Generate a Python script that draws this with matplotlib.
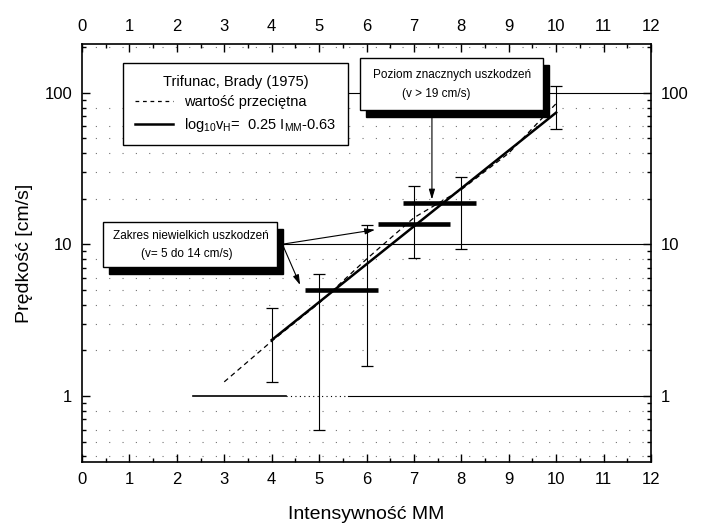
import matplotlib
matplotlib.use("Agg")
import matplotlib.pyplot as plt
import numpy as np
from matplotlib.patches import Rectangle
from matplotlib.lines import Line2D

plt.rcParams['font.family'] = ['Liberation Sans', 'DejaVu Sans']
plt.rcParams['mathtext.fontset'] = 'custom'
plt.rcParams['mathtext.rm'] = 'Liberation Sans'
plt.rcParams['mathtext.it'] = 'Liberation Sans'

# ---- data ----
eb_x = [4, 5, 6, 7, 8, 10]
eb_lo = [1.24, 0.60, 1.58, 8.1, 9.3, 57.6]
eb_hi = [3.79, 6.4, 13.4, 24.4, 28.0, 111.0]

bar_v = [5.0, 13.6, 18.9]
bar_x0 = [4.70, 6.24, 6.77]
bar_x1 = [6.25, 7.76, 8.31]

fit_x = [4, 10]
fit_v = [2.34, 74.1]

mean_x = [3, 4, 5, 6, 7, 8, 9, 10]
mean_v = [1.24, 2.3, 4.1, 8.0, 15.0, 23.0, 40.0, 85.0]

x_ticks = list(range(0, 13))
y_ticks = [1, 10, 100]
y_ticklabels = ['1', '10', '100']

fig = plt.figure(figsize=(7.01, 5.28), dpi=100)
ax = fig.add_axes([82/701, 66/528, 569/701, 418/528])
ax.set_yscale('log')
ax.set_xlim(0, 12)
ax.set_ylim(0.367, 210)

# sparse dotted minor gridlines
minor_levels = [0.4, 0.5, 0.6, 0.8] + [2, 3, 4, 5, 6, 8] + [20, 30, 40, 50, 60, 80] + [200]
for lv in minor_levels:
    ax.axhline(lv, color='0.45', lw=0.8, ls=(0, (1, 11)), zorder=1)

# decade lines (partial)
ax.plot([2.35, 4.3], [1, 1], color='k', lw=1.2, zorder=2)
ax.plot([4.3, 5.6], [1, 1], color='k', lw=0.8, ls=(0, (1, 3)), zorder=2)
ax.plot([5.6, 12], [1, 1], color='k', lw=0.8, zorder=2)
ax.plot([4.22, 12], [10, 10], color='k', lw=0.8, zorder=2)
ax.plot([5.6, 12], [100, 100], color='k', lw=0.8, zorder=2)

# error bars
lo = np.array(eb_lo); hi = np.array(eb_hi)
mid = np.sqrt(lo * hi)
ax.errorbar(eb_x, mid, yerr=[mid - lo, hi - mid], fmt='none', ecolor='k',
            elinewidth=0.8, capsize=4.5, capthick=0.9, zorder=3)

# thick damage-level bars
ax.hlines(bar_v, bar_x0, bar_x1, colors='k', lw=3.3, zorder=4)

# lines
ax.plot(mean_x, mean_v, color='k', lw=0.9, ls=(0, (4, 3)), zorder=4)
ax.plot(fit_x, fit_v, color='k', lw=1.8, zorder=5)

# ticks
ax.set_xticks(x_ticks)
ax.set_xticks(np.arange(0.5, 12, 1.0), minor=True)
ax.set_yticks(y_ticks)
ax.set_yticklabels(y_ticklabels)
ax.tick_params(which='both', direction='in', top=True, right=True,
               labeltop=True, labelright=True, labelsize=12, width=1.0)
ax.tick_params(which='major', length=6, pad=7)
ax.tick_params(which='minor', length=3)
for s in ax.spines.values():
    s.set_linewidth(1.2)

ax.set_xlabel('Intensywność MM', fontsize=14, labelpad=14)
ax.set_ylabel('Prędkość [cm/s]', fontsize=14, labelpad=8)

# legend box
h1 = Line2D([], [], color='k', lw=0.9, ls=(0, (3, 3)))
h2 = Line2D([], [], color='k', lw=1.8)
leg = ax.legend([h1, h2], ['wartość przeciętna',
                           r'log$_{\mathrm{10}}$v$_{\mathrm{H}}$=  0.25 I$_{\mathrm{MM}}$-0.63'],
                title='Trifunac, Brady (1975)', loc='upper left',
                bbox_to_anchor=(0.072, 0.9545), frameon=True, fancybox=False,
                edgecolor='k', framealpha=1, fontsize=10.5, title_fontsize=10.5,
                handlelength=2.6, borderpad=0.8, labelspacing=0.45, borderaxespad=0)
leg.get_frame().set_linewidth(1.0)
leg.set_zorder(6)

tr = ax.transAxes
def shadow_box(x0, y0, x1, y1, dx=6/569, dy=7/418):
    ax.add_patch(Rectangle((x0 + dx, y0 - dy), x1 - x0, y1 - y0, transform=tr,
                           facecolor='k', edgecolor='k', zorder=6))
    ax.add_patch(Rectangle((x0, y0), x1 - x0, y1 - y0, transform=tr,
                           facecolor='white', edgecolor='k', lw=1.0, zorder=7))

# Poziom box
shadow_box(0.4886, 0.842, 0.810, 0.9665)
ax.text(0.651, 0.925, 'Poziom znacznych uszkodzeń', transform=tr, ha='center', va='center',
        fontsize=8.5, zorder=8)
ax.text(0.622, 0.881, '(v > 19 cm/s)', transform=tr, ha='center', va='center',
        fontsize=8.5, zorder=8)

# Zakres box
shadow_box(0.0364, 0.466, 0.342, 0.575)
ax.text(0.192, 0.540, 'Zakres niewielkich uszkodzeń', transform=tr, ha='center', va='center',
        fontsize=8.5, zorder=8)
ax.text(0.185, 0.498, '(v= 5 do 14 cm/s)', transform=tr, ha='center', va='center',
        fontsize=8.5, zorder=8)

ap = dict(arrowstyle='-|>,head_length=0.6,head_width=0.18', color='k', lw=0.8,
          shrinkA=0, shrinkB=0)
ax.annotate('', xy=(7.38, 19.8), xytext=(7.38, 77), arrowprops=ap, zorder=5)
ax.annotate('', xy=(6.18, 12.5), xytext=(4.24, 10.05), arrowprops=ap, zorder=5)
ax.annotate('', xy=(4.6, 5.4), xytext=(4.24, 9.8), arrowprops=ap, zorder=5)

fig.savefig('out.png', dpi=100)
